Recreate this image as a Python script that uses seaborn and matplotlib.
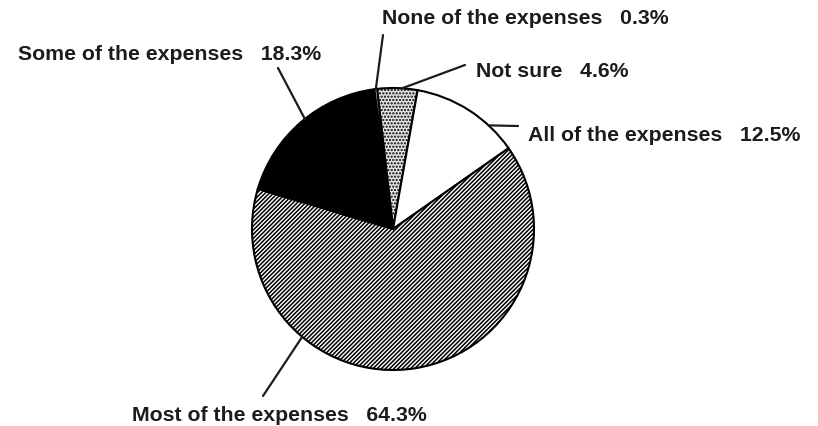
import numpy as np
import matplotlib
matplotlib.use("Agg")
import matplotlib.pyplot as plt
import seaborn as sns

# Survey answers, clockwise from the top of the pie
categories = ["Not sure", "All of the expenses", "Most of the expenses",
              "Some of the expenses", "None of the expenses"]
shares = [4.6, 12.5, 64.3, 18.3, 0.3]

# Look of each wedge
face_colors = ["#e8e8e8", "white", "white", "black", "white"]
hatches = [".....", None, "////////", None, None]

# Label layout (pixel coords, top-left origin): text start and leader line
label_xy = [(476, 77), (528, 141), (132, 421), (18, 60), (382, 24)]
line_outer = [(465, 66), (518, 127), (263, 397), (278, 69), (383, 36)]
line_angle = [86.3, 47.3, 229.9, 128.7, 97.0]

W, H = 818, 427
CENTER = (393, 230)
RADIUS = 141

sns.set_theme(style="white")
plt.rcParams["font.family"] = ["Liberation Sans", "DejaVu Sans"]
plt.rcParams["hatch.linewidth"] = 1.1

fig = plt.figure(figsize=(W / 100, H / 100), dpi=100)
ax = fig.add_axes([0, 0, 1, 1])

wedges, _ = ax.pie(
    shares,
    startangle=96.5,
    counterclock=False,
    colors=face_colors,
    radius=RADIUS,
    center=(CENTER[0], H - CENTER[1]),
    wedgeprops=dict(edgecolor="black", linewidth=1.5),
)
for w, h in zip(wedges, hatches):
    if h:
        w.set_hatch(h)

ax.set_xlim(0, W)
ax.set_ylim(0, H)
ax.set_aspect("equal")
ax.axis("off")

for cat, val, (tx, ty), (ox, oy), ang in zip(categories, shares, label_xy,
                                             line_outer, line_angle):
    ax.text(tx, H - ty, f"{cat}   {val:.1f}%", ha="left", va="baseline",
            fontsize=15.3, fontweight="bold", color="#1c1c1c")
    a = np.deg2rad(ang)
    ix = CENTER[0] + RADIUS * np.cos(a)
    iy = H - CENTER[1] + RADIUS * np.sin(a)
    ax.plot([ox, ix], [H - oy, iy], color="#1c1c1c", linewidth=1.6)

fig.savefig("out.png", dpi=100, facecolor="white")
